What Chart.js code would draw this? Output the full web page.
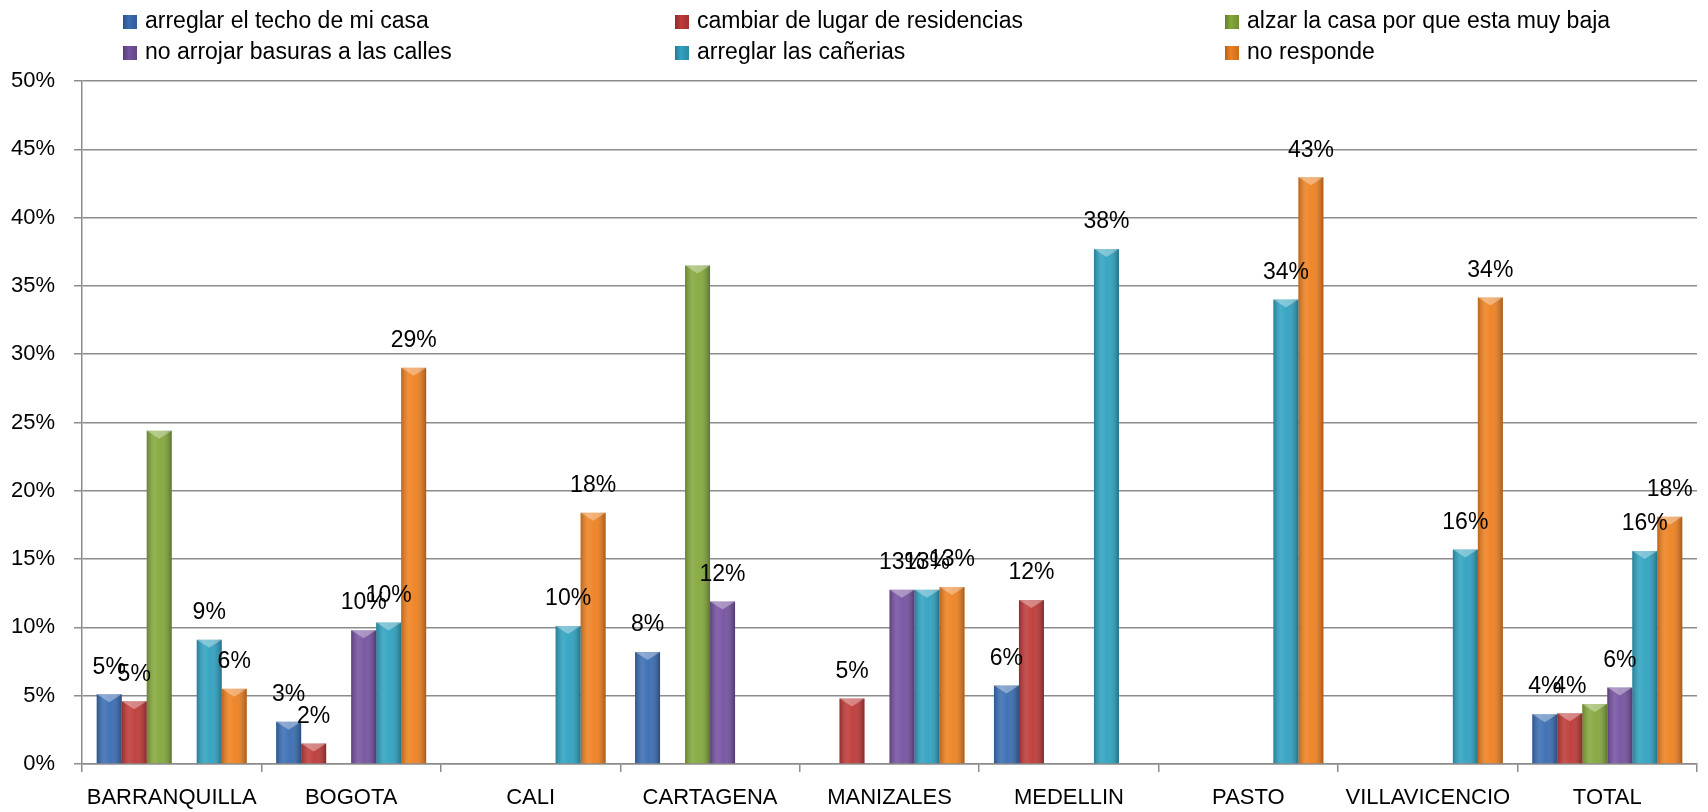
<!DOCTYPE html>
<html>
<head>
<meta charset="utf-8">
<script src="https://cdn.jsdelivr.net/npm/chart.js@4"></script>
<style>
  html, body { margin: 0; padding: 0; background: #fff; }
  #wrap { position: relative; width: 1708px; height: 812px; }
  #legend { position: absolute; top: 5px; left: 0; width: 1708px; font: 23px "Liberation Sans", Arial, sans-serif; color: #000; }
  .item { position: absolute; white-space: nowrap; line-height: 31px; }
  .item i { display: inline-block; width: 14px; height: 14px; margin-right: 8px; vertical-align: -1px; }
</style>
</head>
<body>
<div id="wrap">
  <canvas id="chart" width="1708" height="812"></canvas>
  <div id="legend"></div>
</div>
<script>
// Data (percent)
const categories = ["BARRANQUILLA", "BOGOTA", "CALI", "CARTAGENA", "MANIZALES", "MEDELLIN", "PASTO", "VILLAVICENCIO", "TOTAL"];
const techo      = [5.1, 3.1, null, 8.2, null, 5.75, null, null, 3.65];
const residencia = [4.6, 1.5, null, null, 4.8, 12.0, null, null, 3.72];
const alzar      = [24.4, null, null, 36.5, null, null, null, null, 4.4];
const basuras    = [null, 9.8, null, 11.9, 12.75, null, null, null, 5.6];
const canerias   = [9.1, 10.35, 10.1, null, 12.75, 37.7, 34.0, 15.7, 15.6];
const noResponde = [5.5, 29.0, 18.4, null, 12.96, null, 42.95, 34.15, 18.1];
const yTicks = [0, 5, 10, 15, 20, 25, 30, 35, 40, 45, 50];

const series = [
  { label: "arreglar el techo de mi casa", data: techo, color: "#3a6db3", labels: true },
  { label: "cambiar de lugar de residencias", data: residencia, color: "#be3a38", labels: true },
  { label: "alzar la casa por que esta muy baja", data: alzar, color: "#84a83c", labels: false },
  { label: "no arrojar basuras a las calles", data: basuras, color: "#7552a0", labels: true },
  { label: "arreglar las cañerias", data: canerias, color: "#30a2c0", labels: true },
  { label: "no responde", data: noResponde, color: "#ee8121", labels: true },
];

// legend: 3 columns, 2 rows
const legendCols = [123, 675, 1225];
const legendEl = document.getElementById("legend");
series.forEach((s, i) => {
  const div = document.createElement("div");
  div.className = "item";
  div.style.left = legendCols[i % 3] + "px";
  div.style.top = (i < 3 ? 0 : 31) + "px";
  div.innerHTML = '<i style="background:linear-gradient(90deg,rgba(0,0,0,.25),' + s.color + ' 40%,rgba(0,0,0,.15)),' + s.color + '"></i>' + s.label;
  legendEl.appendChild(div);
});

// 3d-ish shading on top of each bar
const shade = {
  id: "shade",
  afterDatasetDraw(chart, args) {
    const ctx = chart.ctx;
    const data = chart.data.datasets[args.index].data;
    args.meta.data.forEach((bar, i) => {
      if (data[i] == null) return;
      const { x, y, base, width } = bar.getProps(["x", "y", "base", "width"], true);
      const l = x - width / 2, r = x + width / 2;
      const g = ctx.createLinearGradient(l, 0, r, 0);
      g.addColorStop(0, "rgba(0,0,0,0.22)");
      g.addColorStop(0.3, "rgba(255,255,255,0.12)");
      g.addColorStop(0.55, "rgba(255,255,255,0.04)");
      g.addColorStop(1, "rgba(0,0,0,0.3)");
      ctx.save();
      ctx.fillStyle = g;
      ctx.fillRect(l, y, width, base - y);
      ctx.fillStyle = "rgba(255,255,255,0.35)";
      ctx.beginPath();
      ctx.moveTo(l, y);
      ctx.lineTo(r, y);
      ctx.lineTo(x, y + 8);
      ctx.closePath();
      ctx.fill();
      ctx.restore();
    });
  },
};

// value labels above bars
const valueLabels = {
  id: "valueLabels",
  afterDatasetsDraw(chart) {
    const ctx = chart.ctx;
    ctx.save();
    ctx.font = '23px "Liberation Sans", Arial, sans-serif';
    ctx.fillStyle = "#000";
    ctx.textAlign = "center";
    ctx.textBaseline = "middle";
    chart.data.datasets.forEach((ds, di) => {
      if (!series[di].labels) return;
      chart.getDatasetMeta(di).data.forEach((bar, i) => {
        const v = ds.data[i];
        if (v == null) return;
        ctx.fillText(Math.round(v) + "%", bar.x, bar.y - 27);
      });
    });
    ctx.restore();
  },
};

new Chart(document.getElementById("chart"), {
  type: "bar",
  data: {
    labels: categories,
    datasets: series.map((s) => ({
      label: s.label,
      data: s.data,
      backgroundColor: s.color,
      borderWidth: 0,
      categoryPercentage: 0.836,
      barPercentage: 1,
    })),
  },
  options: {
    responsive: false,
    animation: false,
    layout: { padding: { top: 81, left: 11, right: 11, bottom: 0 } },
    plugins: {
      legend: { display: false },
      tooltip: { enabled: false },
    },
    scales: {
      x: {
        afterFit: (axis) => { axis.height = 48; },
        grid: { offset: true, drawOnChartArea: false, tickLength: 8, color: "#8c8c8c", lineWidth: 1.5 },
        border: { color: "#8c8c8c", width: 1.5 },
        ticks: { color: "#000", padding: 13, font: { family: '"Liberation Sans", Arial, sans-serif', size: 22 } },
      },
      y: {
        min: 0,
        max: 50,
        afterFit: (axis) => { axis.width = 71; },
        afterBuildTicks: (axis) => { axis.ticks = yTicks.map((v) => ({ value: v })); },
        grid: { tickLength: 8, color: "#8c8c8c", lineWidth: 1.5 },
        border: { color: "#8c8c8c", width: 1.5 },
        ticks: { color: "#000", padding: 19, font: { family: '"Liberation Sans", Arial, sans-serif', size: 22 }, callback: (v) => v + "%" },
      },
    },
  },
  plugins: [shade, valueLabels],
});
</script>
</body>
</html>
